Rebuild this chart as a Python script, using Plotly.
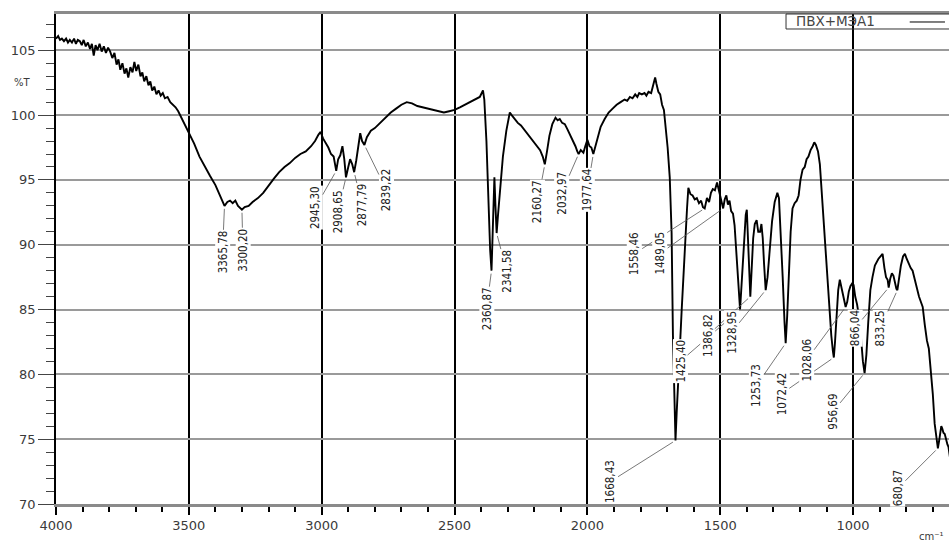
import numpy as np
import plotly.graph_objects as go

# ---------------- data ----------------
wavenumber = [
    4000, 3992, 3985, 3978, 3970, 3962, 3955, 3948, 3940, 3932, 3925, 3918, 3910, 3903, 3896,
    3888, 3880, 3872, 3865, 3858, 3851, 3844, 3836, 3828, 3820, 3812, 3804, 3796, 3788, 3780,
    3772, 3765, 3758, 3750, 3742, 3735, 3728, 3720, 3712, 3705, 3698, 3690, 3682, 3675, 3668,
    3660, 3652, 3645, 3638, 3630, 3622, 3614, 3606, 3598, 3590, 3580, 3570, 3560, 3550, 3540,
    3530, 3520, 3510, 3500, 3480, 3460, 3440, 3420, 3400, 3385, 3375, 3365.78, 3355, 3345, 3335,
    3325, 3315, 3300.20, 3290, 3275, 3260, 3240, 3220, 3200, 3180, 3160, 3140, 3120, 3100, 3080,
    3060, 3040, 3025, 3012, 3004, 2995, 2985, 2975, 2965, 2955, 2945.30, 2938, 2930, 2922, 2915,
    2908.65, 2900, 2893, 2885, 2877.79, 2870, 2862, 2855, 2848, 2839.22, 2830, 2815, 2800, 2780, 2760,
    2740, 2720, 2700, 2680, 2660, 2640, 2620, 2600, 2580, 2560, 2540, 2520, 2500, 2480, 2460,
    2440, 2420, 2405, 2393, 2388, 2380, 2372, 2366, 2360.87, 2356, 2350, 2346, 2341.58, 2336, 2328,
    2318, 2305, 2292, 2285, 2275, 2262, 2250, 2235, 2220, 2205, 2190, 2178, 2168, 2160.27, 2152,
    2143, 2132, 2120, 2112, 2104, 2095, 2085, 2075, 2065, 2055, 2045, 2038, 2032.97, 2025, 2015,
    2008, 2000, 1992, 1985, 1977.64, 1970, 1962, 1950, 1935, 1920, 1905, 1890, 1875, 1860, 1850,
    1840, 1830, 1820, 1812, 1805, 1795, 1785, 1778, 1770, 1760, 1752, 1745, 1740, 1733, 1726,
    1719, 1712, 1705, 1698, 1690, 1683, 1678, 1673, 1668.43, 1664, 1660, 1652, 1645, 1638, 1630,
    1625, 1620, 1612, 1604, 1596, 1588, 1580, 1572, 1565, 1558.46, 1550, 1542, 1535, 1528, 1520,
    1512, 1506, 1500, 1494, 1489.05, 1483, 1477, 1471, 1465, 1459, 1452, 1446, 1440, 1434, 1425.40,
    1418, 1410, 1404, 1400, 1394, 1390, 1386.82, 1382, 1376, 1370, 1363, 1357, 1350, 1345, 1340,
    1335, 1328.95, 1322, 1314, 1305, 1295, 1285, 1279, 1272, 1265, 1258, 1253.73, 1248, 1242, 1235,
    1228, 1220, 1212, 1205, 1198, 1190, 1182, 1175, 1168, 1160, 1152, 1146, 1140, 1132, 1125,
    1118, 1110, 1100, 1090, 1082, 1076, 1072.42, 1068, 1062, 1056, 1050, 1045, 1038, 1033, 1028.06,
    1022, 1016, 1010, 1004, 998, 992, 985, 978, 970, 963, 956.69, 950, 943, 935, 927,
    918, 905, 895, 889, 882, 876, 870, 866.04, 860, 854, 848, 842, 837, 833.25, 828,
    820, 812, 805, 798, 790, 783, 776, 768, 760, 752, 745, 738, 730, 722, 715,
    708, 700, 693, 688, 684, 680.87, 676, 672, 668, 664, 660, 655, 650, 645, 641,
    636, 630,
]
transmittance = [
    105.9, 106.1, 105.8, 105.9, 105.7, 105.9, 105.6, 105.8, 105.6, 105.9, 105.5, 105.8, 105.7, 105.4, 105.8,
    105.3, 105.6, 105.1, 105.5, 104.6, 105.4, 105.0, 105.5, 104.9, 105.3, 104.8, 105.2, 104.9, 104.4, 104.8,
    103.9, 104.3, 103.5, 104.0, 103.2, 103.6, 102.9, 103.7, 103.3, 104.1, 103.4, 103.9, 103.0, 103.3, 102.6,
    103.0, 102.3, 102.6, 101.9, 102.2, 101.6, 101.9, 101.5, 101.7, 101.3, 101.4, 101.0, 100.8, 100.6, 100.3,
    99.9, 99.4, 99.0, 98.6, 97.8, 96.8, 96.0, 95.3, 94.6, 93.9, 93.4, 93.0, 93.3, 93.4, 93.2,
    93.4, 93.0, 92.7, 92.9, 93.0, 93.3, 93.6, 94.0, 94.6, 95.1, 95.6, 96.0, 96.3, 96.7, 97.0,
    97.2, 97.6, 98.0, 98.5, 98.7, 98.2, 97.9, 97.5, 97.0, 96.8, 95.7, 96.6, 96.9, 97.6, 96.6,
    95.2, 96.0, 96.6, 96.2, 95.6, 96.5, 97.8, 98.6, 98.0, 97.7, 98.3, 98.8, 99.0, 99.4, 99.8,
    100.2, 100.5, 100.8, 101.0, 100.9, 100.7, 100.6, 100.5, 100.4, 100.3, 100.2, 100.3, 100.4, 100.6, 100.8,
    101.0, 101.2, 101.4, 101.9, 101.2, 98.0, 93.0, 89.6, 88.0, 91.5, 95.2, 93.0, 90.9, 92.4, 94.5,
    96.8, 98.8, 100.2, 100.0, 99.7, 99.4, 99.2, 98.8, 98.4, 98.0, 97.6, 97.3, 96.8, 96.2, 97.2,
    98.4, 99.3, 99.8, 99.6, 99.7, 99.4, 99.3, 98.9, 98.5, 98.1, 97.6, 97.2, 97.0, 97.3, 97.1,
    97.6, 98.1, 97.6, 97.5, 97.0, 97.6, 98.3, 99.1, 99.7, 100.2, 100.5, 100.8, 101.0, 101.2, 101.1,
    101.4, 101.3, 101.6, 101.4, 101.7, 101.6, 101.7, 101.5, 101.8, 101.7, 102.3, 102.9, 102.4, 101.8, 101.6,
    100.8, 100.4, 99.0, 97.5, 95.2, 90.9, 83.0, 78.5, 74.9, 77.0, 79.0, 82.0, 85.0, 88.0, 91.0,
    92.8, 94.4, 93.9, 93.8, 93.5, 93.6, 93.2, 93.4, 92.9, 92.8, 93.6, 93.3, 94.0, 94.3, 94.2,
    94.8, 94.3, 93.8, 93.4, 92.8, 93.5, 93.8, 93.1, 93.4, 92.6, 92.4, 91.5, 89.5, 87.5, 85.0,
    87.5, 90.5, 92.3, 92.7, 89.5, 87.0, 86.0, 88.0, 90.5, 91.6, 91.9, 91.0, 91.0, 91.6, 90.5,
    88.5, 86.5, 87.5, 89.5, 91.8, 93.3, 94.0, 93.6, 91.0, 87.5, 84.0, 82.4, 84.5, 88.0, 91.0,
    92.8, 93.2, 93.4, 93.8, 95.0, 95.8, 96.0, 96.6, 96.8, 97.3, 97.6, 97.9, 97.7, 97.2, 96.2,
    94.0, 91.5, 88.5, 85.5, 83.0, 81.8, 81.3, 82.5, 84.5, 86.5, 87.3, 86.8, 86.0, 85.5, 85.2,
    85.6, 86.4, 86.8, 87.0, 86.9, 86.0, 85.4, 84.5, 82.8, 81.0, 80.1, 81.5, 84.0, 86.5, 87.5,
    88.4, 88.9, 89.2, 89.3, 88.2, 87.5, 87.3, 86.7, 87.4, 87.8, 87.6, 87.0, 86.6, 86.5, 87.3,
    88.4, 89.1, 89.3, 88.9, 88.5, 88.2, 88.0, 87.3, 86.6, 86.0, 85.6, 85.2, 83.8, 82.6, 82.0,
    80.5, 78.5, 76.2, 75.2, 74.8, 74.3, 74.9, 75.4, 76.0, 75.8, 75.5, 75.4, 74.9, 74.6, 74.4,
    73.6, 72.8,
]

peak_wavenumbers = [3365.78, 3300.20, 2945.30, 2908.65, 2877.79, 2839.22, 2360.87, 2341.58,
                    2160.27, 2032.97, 1977.64, 1668.43, 1558.46, 1489.05, 1425.40, 1386.82,
                    1328.95, 1253.73, 1072.42, 1028.06, 956.69, 866.04, 833.25, 680.87]
peak_labels = ["3365,78", "3300,20", "2945,30", "2908,65", "2877,79", "2839,22", "2360,87", "2341,58",
               "2160,27", "2032,97", "1977,64", "1668,43", "1558,46", "1489,05", "1425,40", "1386,82",
               "1328,95", "1253,73", "1072,42", "1028,06", "956,69", "866,04", "833,25", "680,87"]
# label placement offsets (pixels from the peak)
label_offsets = [(-2, 46), (1, 40), (-21, 37), (-8, 34), (8, 33), (22, 45), (-5, 38), (10, 38),
                 (-7, 37), (-17, 39), (-6, 36), (-65, 41), (-70, 45), (-63, 45), (-60, 52), (-43, 39),
                 (-34, 42), (-29, 42), (-52, 36), (-39, 53), (-32, 39), (-34, 41), (-17, 38), (-40, 40)]

x_ticks = [4000, 3500, 3000, 2500, 2000, 1500, 1000]
y_ticks = [70, 75, 80, 85, 90, 95, 100, 105]
series_name = "ПВХ+МЭА1"

# ---------------- figure ----------------
fig = go.Figure()
fig.add_trace(go.Scatter(
    x=wavenumber, y=transmittance, mode="lines", name=series_name,
    line=dict(color="black", width=1.9), showlegend=False,
))

wn_asc = np.array(wavenumber)[::-1]
t_asc = np.array(transmittance)[::-1]
label_font = dict(family="Liberation Sans Narrow, DejaVu Sans Condensed, sans-serif", size=11.5, color="#222")
for wn, lbl, (dx, dy) in zip(peak_wavenumbers, peak_labels, label_offsets):
    yv = float(np.interp(wn, wn_asc, t_asc))
    fig.add_annotation(
        x=wn, y=yv, text=lbl, textangle=-90, showarrow=True, arrowhead=0,
        arrowwidth=0.8, arrowcolor="#555", ax=dx, ay=dy, standoff=3,
        bgcolor="white", borderpad=0, font=label_font,
    )

tick_font = dict(family="DejaVu Sans, sans-serif", size=13, color="#3a3a3a")

fig.update_layout(
    width=949, height=543,
    margin=dict(l=56, r=0, t=14, b=39, autoexpand=False),
    paper_bgcolor="white", plot_bgcolor="white",
    showlegend=False,
    xaxis=dict(
        range=[4000, 639], tickvals=x_ticks, ticks="outside", ticklen=8, tickwidth=1.5,
        tickcolor="black", tickfont=tick_font, showgrid=True, gridcolor="black", gridwidth=1.5,
        showline=True, linecolor="#8a8a8a", linewidth=2.5, mirror=True, zeroline=False,
        minor=dict(dtick=100, tick0=0, ticks="outside", ticklen=5, tickcolor="black", showgrid=False),
    ),
    yaxis=dict(
        range=[70, 107.8], tickvals=y_ticks, ticks="outside", ticklen=16, tickwidth=1,
        tickcolor="#444", tickfont=tick_font, showgrid=True, gridcolor="#9a9a9a", gridwidth=2,
        showline=True, linecolor="black", linewidth=1.5, zeroline=False,
        minor=dict(dtick=1, tick0=70, ticks="outside", ticklen=8, tickcolor="#444", showgrid=False),
    ),
)

fig.add_annotation(xref="paper", yref="y", x=0, y=102.5, xanchor="right", xshift=-23,
                   text="%T", showarrow=False, font=dict(family="DejaVu Sans", size=10, color="#3a3a3a"))
fig.add_annotation(xref="paper", yref="paper", x=1, y=0, xshift=-3, yshift=-25, xanchor="right", yanchor="top",
                   text="cm⁻¹", showarrow=False, font=dict(family="DejaVu Sans", size=10, color="#3a3a3a"))

# legend box (text left, line sample right, as in the reference)
fig.add_shape(type="rect", xref="paper", yref="paper", x0=0.8175, x1=1.02, y0=0.9694, y1=1.0,
              line=dict(color="#333", width=1), fillcolor="rgba(0,0,0,0)", layer="above")
fig.add_shape(type="line", xref="paper", yref="paper", x0=0.956, x1=0.9955, y0=0.9837, y1=0.9837,
              line=dict(color="black", width=1), layer="above")
fig.add_annotation(xref="paper", yref="paper", x=0.8265, y=0.9847, xanchor="left", yanchor="middle",
                   text=series_name, showarrow=False,
                   font=dict(family="DejaVu Sans", size=13.5, color="#444"))

fig.write_html(
    "out.html",
    config={"displayModeBar": False},
    post_script="document.body.style.margin='0';document.body.style.overflow='hidden';",
)
